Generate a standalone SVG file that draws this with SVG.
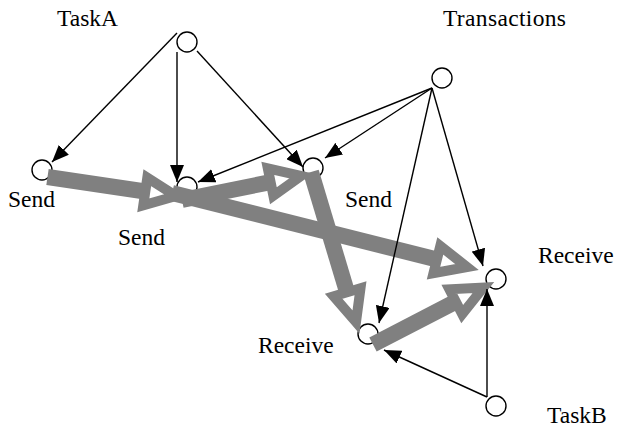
<svg xmlns="http://www.w3.org/2000/svg" width="618" height="429" viewBox="0 0 618 429">
<style>
.node{fill:#fff;stroke:#000;stroke-width:1.4}
.lbl{font-family:"Liberation Serif","Times New Roman",serif;font-size:23.5px;fill:#000}
.shaft{stroke:#808080;stroke-width:16;fill:none;stroke-linecap:butt}
.head{stroke:#808080;stroke-width:10;fill:none;stroke-linejoin:miter;stroke-miterlimit:10}
.ref{stroke:#000;stroke-width:1.4;fill:none;marker-end:url(#ah)}
</style>
<defs>
<marker id="ah" markerUnits="userSpaceOnUse" markerWidth="17" markerHeight="14" refX="17" refY="7" orient="auto">
<path d="M0,0 L17,7 L0,14 z" fill="#000"/>
</marker>
</defs>
<rect width="618" height="429" fill="#fff"/>
<g id="taskA"><circle class="node" cx="187" cy="42" r="10"/><text class="lbl" x="57" y="26">TaskA</text></g>
<g id="transactions"><circle class="node" cx="442" cy="78" r="10"/><text class="lbl" x="443" y="26" textLength="123">Transactions</text></g>
<g id="send1"><circle class="node" cx="42" cy="170" r="10"/><text class="lbl" x="8" y="207">Send</text></g>
<g id="send2"><circle class="node" cx="187" cy="187" r="10"/><text class="lbl" x="118" y="245">Send</text></g>
<g id="send3"><circle class="node" cx="313" cy="168" r="10"/><text class="lbl" x="345" y="207">Send</text></g>
<g id="receive1"><circle class="node" cx="496" cy="279" r="10"/><text class="lbl" x="538" y="263">Receive</text></g>
<g id="receive2"><circle class="node" cx="368" cy="334" r="10"/><text class="lbl" x="258" y="353">Receive</text></g>
<g id="taskB"><circle class="node" cx="496" cy="406" r="10"/><text class="lbl" x="547" y="423">TaskB</text></g>
<g id="connectors">
<g id="flow">
<line class="shaft" x1="47.5" y1="177" x2="145.3" y2="191.5"/>
<path class="head" d="M176,196 L143.3,205.3 L147.3,177.7 Z"/>
<line class="shaft" x1="182" y1="200" x2="270.6" y2="182.1"/>
<path class="head" d="M301,176 L273.4,195.8 L267.8,168.4 Z"/>
<line class="shaft" x1="172" y1="193" x2="436.9" y2="259.5"/>
<path class="head" d="M467,267 L433.5,273.1 L440.3,245.9 Z"/>
<line class="shaft" x1="311" y1="172" x2="347.1" y2="292.3"/>
<path class="head" d="M356,322 L333.7,296.3 L360.5,288.3 Z"/>
<line class="shaft" x1="373" y1="344.5" x2="455.8" y2="301.7"/>
<path class="head" d="M483.4,287.5 L462.2,314.1 L449.4,289.3 Z"/>
</g>
<g id="refs">
<line class="ref" x1="177" y1="33" x2="52" y2="162"/>
<line class="ref" x1="177" y1="52" x2="177" y2="182"/>
<line class="ref" x1="197" y1="51" x2="303" y2="167"/>
<line class="ref" x1="432" y1="88" x2="198" y2="182"/>
<line class="ref" x1="432" y1="88" x2="325" y2="158"/>
<line class="ref" x1="432" y1="88" x2="379" y2="323"/>
<line class="ref" x1="432" y1="88" x2="483" y2="266"/>
<line class="ref" x1="487" y1="397" x2="487" y2="289"/>
<line class="ref" x1="487" y1="397" x2="384" y2="350"/>
</g>
</g>
</svg>
